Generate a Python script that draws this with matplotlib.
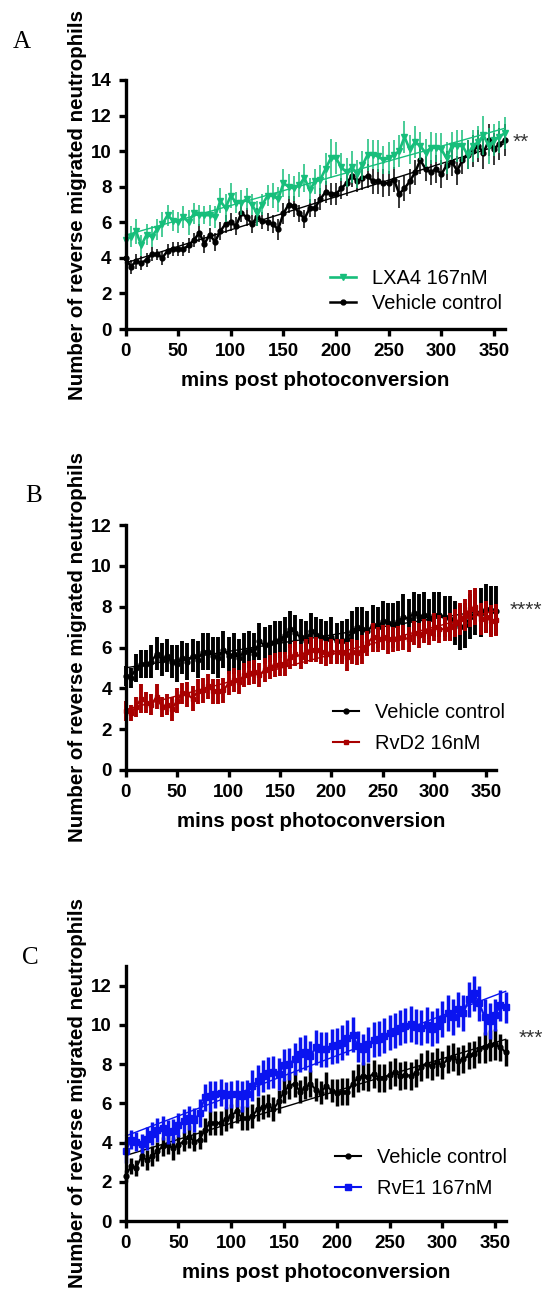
import numpy as np
import matplotlib.pyplot as plt

plt.rcParams['font.family'] = ['Liberation Sans', 'DejaVu Sans']

mins = np.arange(0, 361, 5)

# A: LXA4 vs vehicle
lxa4_mean = [5.0, 5.2, 5.5, 4.7, 5.3, 5.2, 5.6, 5.9, 6.4, 6.1,
             6.0, 6.3, 6.0, 6.5, 6.4, 6.4, 6.4, 6.3, 7.2, 6.8,
             7.5, 7.1, 7.1, 7.3, 7.0, 6.5, 7.0, 7.5, 7.5, 7.3,
             8.2, 8.0, 7.9, 8.1, 8.5, 7.8, 8.3, 8.4, 9.0, 9.6,
             9.6, 9.1, 8.8, 9.1, 8.7, 9.2, 9.8, 9.8, 9.7, 9.5,
             9.6, 9.8, 10.0, 10.8, 10.1, 10.5, 10.3, 9.9, 10.2, 10.2,
             10.1, 9.6, 10.3, 10.3, 10.3, 9.8, 10.3, 10.5, 10.9, 10.3,
             10.6, 10.8, 11.0]
lxa4_sem = [0.5, 0.6, 0.7, 0.6, 0.6, 0.6, 0.6, 0.7, 0.6, 0.6,
            0.6, 0.6, 0.7, 0.6, 0.6, 0.5, 0.6, 0.6, 0.7, 0.8,
            0.7, 0.6, 0.7, 0.6, 0.6, 0.7, 0.6, 0.6, 0.7, 0.7,
            0.8, 0.7, 0.7, 0.7, 0.8, 0.7, 0.7, 0.8, 0.9, 1.1,
            0.9, 0.8, 0.8, 0.9, 0.8, 0.8, 0.9, 0.8, 0.9, 0.8,
            0.9, 0.8, 0.9, 0.9, 0.8, 0.9, 0.8, 0.8, 0.9, 0.8,
            0.9, 0.9, 0.8, 0.9, 0.9, 0.8, 0.9, 0.9, 1.1, 1.0,
            0.9, 0.9, 0.9]
vehA_mean = [4.0, 3.5, 3.8, 3.7, 3.9, 4.2, 4.2, 4.0, 4.4, 4.5,
             4.5, 4.5, 4.7, 5.0, 5.4, 4.8, 5.3, 4.9, 5.5, 5.9,
             6.0, 5.8, 6.5, 6.3, 5.9, 6.3, 6.1, 6.0, 5.9, 5.6,
             6.5, 7.0, 6.9, 6.5, 6.2, 6.8, 6.8, 7.3, 7.7, 7.6,
             7.6, 7.9, 8.2, 8.6, 8.3, 8.5, 8.6, 8.3, 8.3, 8.2,
             8.2, 8.4, 7.6, 7.9, 8.3, 8.8, 9.5, 9.0, 8.8, 9.0,
             8.7, 9.2, 9.4, 8.9, 9.5, 9.8, 10.0, 10.3, 9.9, 10.6,
             10.1, 10.4, 10.6]
vehA_sem = [0.3, 0.4, 0.4, 0.4, 0.4, 0.4, 0.3, 0.4, 0.4, 0.4,
            0.4, 0.4, 0.4, 0.4, 0.5, 0.5, 0.4, 0.5, 0.5, 0.5,
            0.5, 0.5, 0.5, 0.5, 0.5, 0.5, 0.5, 0.5, 0.5, 0.6,
            0.6, 0.5, 0.6, 0.5, 0.5, 0.5, 0.5, 0.6, 0.6, 0.6,
            0.6, 0.6, 0.7, 0.6, 0.6, 0.7, 0.7, 0.7, 0.7, 0.8,
            0.7, 0.7, 0.8, 0.7, 0.7, 0.7, 0.8, 0.7, 0.7, 0.8,
            0.8, 0.8, 0.8, 0.8, 0.8, 0.8, 0.9, 0.9, 0.9, 0.9,
            0.9, 0.9, 0.9]

# B: RvD2 vs vehicle
vehB_mean = [4.6, 4.5, 5.0, 5.2, 5.2, 5.3, 5.7, 5.4, 5.6, 5.3,
             5.2, 5.5, 5.3, 5.6, 5.4, 5.8, 5.8, 5.6, 5.5, 5.9,
             5.6, 5.7, 5.5, 5.8, 5.9, 5.7, 6.3, 6.1, 6.2, 6.3,
             6.4, 6.6, 6.9, 6.7, 6.5, 6.3, 6.8, 6.6, 6.5, 6.4,
             6.5, 6.3, 6.3, 6.4, 6.8, 7.0, 6.9, 6.8, 7.1, 7.0,
             7.3, 7.2, 7.1, 7.3, 7.5, 7.4, 7.7, 7.5, 7.6, 7.4,
             7.6, 7.6, 7.5, 7.4, 7.2, 7.0, 7.1, 7.5, 7.7, 7.7,
             7.9, 7.8, 7.8]
vehB_sem = [0.5, 0.5, 0.7, 0.7, 0.7, 0.8, 0.8, 0.8, 0.8, 0.8,
            0.9, 0.8, 0.9, 0.8, 0.9, 0.9, 0.9, 0.9, 1.0, 0.9,
            0.9, 1.0, 0.9, 0.9, 0.9, 1.0, 0.9, 0.9, 0.9, 1.0,
            0.9, 0.9, 0.9, 0.9, 0.9, 1.0, 0.9, 0.9, 0.9, 0.9,
            1.0, 0.9, 1.0, 1.0, 1.0, 1.0, 1.1, 1.0, 1.0, 1.0,
            1.0, 1.0, 1.1, 1.0, 1.1, 1.0, 1.0, 1.1, 1.1, 1.0,
            1.1, 1.1, 1.0, 1.1, 1.1, 1.1, 1.1, 1.1, 1.1, 1.2,
            1.2, 1.2, 1.2]
rvd2_mean = [2.9, 2.8, 3.1, 3.5, 3.3, 3.2, 3.6, 3.1, 3.2, 3.0,
             3.4, 3.75, 3.7, 3.5, 3.85, 3.9, 4.1, 3.85, 3.85, 3.9,
             4.25, 4.4, 4.3, 4.65, 4.75, 4.8, 4.65, 4.9, 5.05, 5.15,
             5.2, 5.2, 5.55, 5.7, 5.55, 5.8, 5.9, 5.9, 5.8, 5.7,
             5.8, 5.8, 5.8, 5.55, 5.8, 5.75, 5.9, 6.2, 6.5, 6.4,
             6.5, 6.4, 6.4, 6.45, 6.5, 6.4, 6.7, 6.6, 6.8, 6.7,
             7.0, 6.9, 6.9, 7.0, 7.2, 7.4, 7.6, 7.9, 8.0, 7.4,
             7.5, 7.3, 7.35]
rvd2_sem = [0.5, 0.4, 0.5, 0.7, 0.5, 0.5, 0.6, 0.5, 0.5, 0.6,
            0.6, 0.5, 0.6, 0.6, 0.6, 0.6, 0.6, 0.6, 0.6, 0.6,
            0.6, 0.6, 0.6, 0.6, 0.6, 0.6, 0.6, 0.6, 0.6, 0.6,
            0.6, 0.6, 0.6, 0.6, 0.6, 0.6, 0.6, 0.6, 0.6, 0.6,
            0.6, 0.6, 0.6, 0.7, 0.6, 0.6, 0.7, 0.6, 0.7, 0.6,
            0.6, 0.7, 0.6, 0.6, 0.6, 0.6, 0.6, 0.6, 0.6, 0.6,
            0.7, 0.7, 0.6, 0.7, 0.7, 0.8, 0.8, 0.9, 0.9, 0.8,
            0.8, 0.8, 0.8]

# C: RvE1 vs vehicle
vehC_mean = [2.3, 2.8, 2.7, 3.3, 3.1, 3.3, 3.55, 3.8, 3.9, 3.7,
             3.9, 4.05, 4.3, 4.05, 4.15, 4.65, 5.0, 5.0, 5.0, 5.2,
             5.35, 5.6, 5.25, 5.25, 5.35, 5.7, 5.8, 5.9, 5.7, 6.1,
             6.6, 6.9, 7.0, 6.6, 6.8, 7.0, 6.7, 6.55, 6.9, 6.65,
             6.55, 6.6, 6.6, 7.0, 7.3, 7.4, 7.35, 7.5, 7.3, 7.3,
             7.45, 7.6, 7.4, 7.45, 7.4, 7.55, 7.85, 8.0, 7.9, 8.1,
             7.95, 8.25, 8.35, 8.15, 8.25, 8.45, 8.5, 8.75, 8.85, 8.95,
             9.0, 8.85, 8.6]
vehC_sem = [0.3, 0.4, 0.4, 0.5, 0.5, 0.5, 0.5, 0.5, 0.5, 0.6,
            0.5, 0.5, 0.6, 0.5, 0.5, 0.6, 0.6, 0.6, 0.6, 0.6,
            0.6, 0.6, 0.6, 0.6, 0.6, 0.6, 0.6, 0.6, 0.6, 0.6,
            0.6, 0.7, 0.7, 0.6, 0.6, 0.7, 0.6, 0.6, 0.7, 0.6,
            0.7, 0.7, 0.7, 0.7, 0.7, 0.7, 0.7, 0.7, 0.7, 0.7,
            0.7, 0.7, 0.7, 0.7, 0.7, 0.7, 0.7, 0.7, 0.7, 0.7,
            0.7, 0.7, 0.7, 0.7, 0.7, 0.7, 0.7, 0.7, 0.8, 0.8,
            0.8, 0.7, 0.7]
rve1_mean = [3.55, 4.15, 4.05, 3.95, 4.2, 4.45, 4.65, 4.75, 4.55, 4.6,
             4.9, 5.1, 5.25, 5.15, 5.5, 6.3, 6.35, 6.45, 6.55, 6.4,
             6.45, 6.5, 6.35, 6.5, 6.9, 7.15, 7.4, 7.55, 7.6, 7.5,
             7.95, 8.0, 8.25, 8.5, 8.6, 8.4, 8.85, 8.75, 8.75, 8.9,
             8.95, 9.1, 9.35, 9.5, 8.9, 8.75, 9.0, 9.25, 9.3, 9.45,
             9.6, 9.7, 9.85, 9.95, 10.05, 9.9, 9.85, 10.0, 9.8, 9.95,
             10.3, 10.6, 10.4, 10.8, 10.6, 11.3, 11.6, 11.1, 10.4, 10.2,
             10.5, 11.0, 10.9]
rve1_sem = [0.6, 0.5, 0.5, 0.5, 0.6, 0.6, 0.6, 0.6, 0.6, 0.6,
            0.6, 0.6, 0.6, 0.6, 0.7, 0.7, 0.8, 0.7, 0.7, 0.7,
            0.7, 0.7, 0.8, 0.7, 0.8, 0.8, 0.8, 0.8, 0.8, 0.8,
            0.8, 0.8, 0.8, 0.9, 0.9, 0.8, 0.9, 0.9, 0.9, 0.9,
            0.9, 0.9, 0.9, 0.9, 0.8, 0.8, 0.9, 0.9, 0.9, 0.9,
            0.9, 0.9, 0.9, 0.9, 0.9, 0.9, 0.9, 0.9, 0.9, 0.9,
            0.9, 0.9, 0.9, 0.9, 0.9, 0.9, 0.9, 0.9, 0.9, 0.9,
            0.8, 0.8, 0.8]

GREEN = '#17BE7B'
RED = '#A80000'
BLUE = '#0A14F0'


def draw_series(ax, mean, sem, color, marker, ms, lw, elw):
    mean = np.asarray(mean)
    ax.errorbar(mins, mean, yerr=sem, fmt='none', ecolor=color,
                elinewidth=elw, capsize=0, clip_on=False)
    line, = ax.plot(mins, mean, color=color, lw=lw, marker=marker, ms=ms,
                    clip_on=False)
    # straight-line fit through the means
    slope, icpt = np.polyfit(mins, mean, 1)
    ends = mins[[0, -1]]
    ax.plot(ends, icpt + slope * ends, color=color, lw=1.0, clip_on=False)
    return line


def style_axes(ax, ymax):
    ax.set_xlim(0, 360)
    ax.set_ylim(0, ymax)
    ax.set_xticks(range(0, 351, 50))
    ax.set_yticks(range(0, int(ymax) + 1 if ymax % 2 == 0 else int(ymax), 2))
    for s in ['top', 'right']:
        ax.spines[s].set_visible(False)
    for s in ['left', 'bottom']:
        ax.spines[s].set_linewidth(2.4)
    ax.tick_params(width=2.4, length=5, labelsize=13.5, pad=5)
    for lab in ax.get_xticklabels() + ax.get_yticklabels():
        lab.set_fontweight('bold')
    ax.set_xlabel('mins post photoconversion', fontsize=14.8,
                  fontweight='bold', labelpad=8)
    ax.set_ylabel('Number of reverse migrated neutrophils', fontsize=14.8,
                  fontweight='bold', labelpad=3)


W, H = 543, 1293
fig = plt.figure(figsize=(W / 100, H / 100), dpi=100)

axA = fig.add_axes([125.5 / W, 1 - 329 / H, 379 / W, 249 / H])
axB = fig.add_axes([125.7 / W, 1 - 770 / H, 370.3 / W, 245 / H])
axC = fig.add_axes([125.7 / W, 1 - 1221 / H, 380 / W, 255 / H])

# panel A
hA_veh = draw_series(axA, vehA_mean, vehA_sem, 'black', 'o', 3.5, 1.8, 1.1)
hA_lx = draw_series(axA, lxa4_mean, lxa4_sem, GREEN, 'v', 5, 1.9, 1.1)
style_axes(axA, 14)
axA.legend([hA_lx, hA_veh], ['LXA4 167nM', 'Vehicle control'],
           loc='center left', bbox_to_anchor=(330 / W, 1 - 291 / H),
           bbox_transform=fig.transFigure, frameon=False, fontsize=14.4,
           borderpad=0, borderaxespad=0, handlelength=1.3,
           handletextpad=0.8, labelspacing=0.28)
axA.text(368, 10.5, '**', fontsize=15, color='#333333', va='center',
         ha='left', clip_on=False)

# panel B
hB_veh = draw_series(axB, vehB_mean, vehB_sem, 'black', 'o', 3.5, 1.5, 2.8)
hB_rv = draw_series(axB, rvd2_mean, rvd2_sem, RED, 's', 3.5, 1.5, 2.8)
style_axes(axB, 12)
axB.legend([hB_veh, hB_rv], ['Vehicle control', 'RvD2 16nM'],
           loc='center left', bbox_to_anchor=(333 / W, 1 - 728 / H),
           bbox_transform=fig.transFigure, frameon=False, fontsize=14.4,
           borderpad=0, borderaxespad=0, handlelength=1.3,
           handletextpad=0.8, labelspacing=0.59)
axB.text(373, 7.8, '****', fontsize=15, color='#333333', va='center',
         ha='left', clip_on=False)

# panel C
hC_veh = draw_series(axC, vehC_mean, vehC_sem, 'black', 'o', 3.5, 1.5, 2.5)
hC_rv = draw_series(axC, rve1_mean, rve1_sem, BLUE, 's', 4, 1.5, 2.5)
style_axes(axC, 13)
axC.legend([hC_veh, hC_rv], ['Vehicle control', 'RvE1 167nM'],
           loc='center left', bbox_to_anchor=(335 / W, 1 - 1173 / H),
           bbox_transform=fig.transFigure, frameon=False, fontsize=14.4,
           borderpad=0, borderaxespad=0, handlelength=1.3,
           handletextpad=0.8, labelspacing=0.63)
axC.text(372, 9.3, '***', fontsize=15, color='#333333', va='center',
         ha='left', clip_on=False)

for letter, x, y in [('A', 22, 42), ('B', 34, 496), ('C', 30, 958)]:
    fig.text(x / W, 1 - y / H, letter, family='Liberation Serif',
             fontsize=18, ha='center', va='center')

fig.savefig('out.png', dpi=100)
